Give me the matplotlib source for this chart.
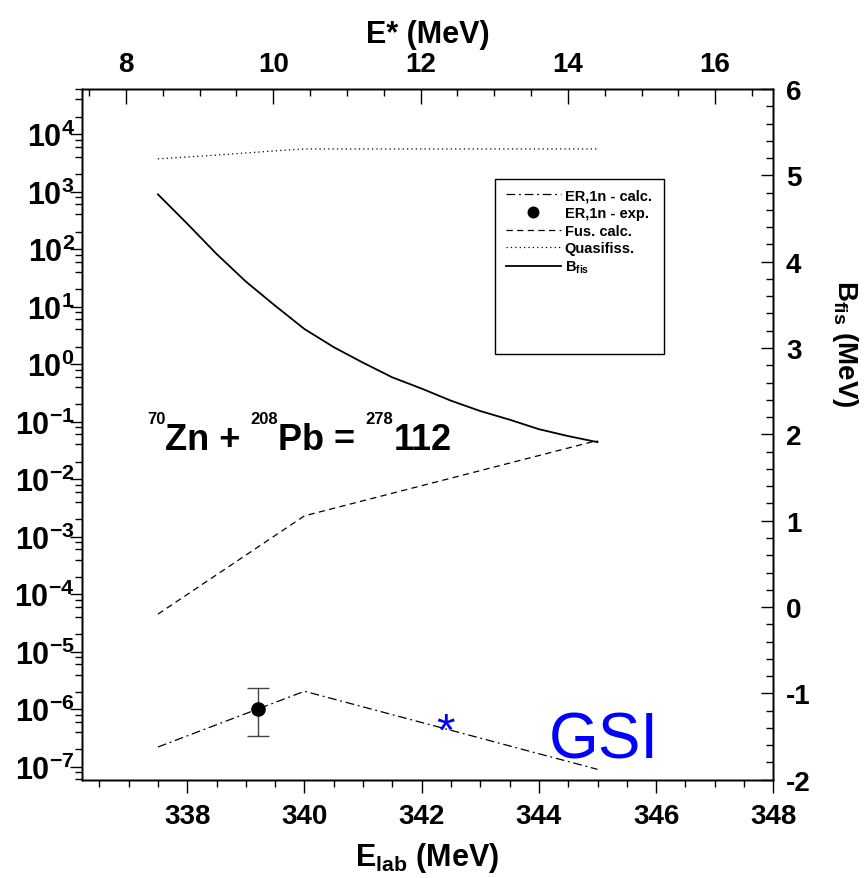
import numpy as np
import matplotlib
matplotlib.use('Agg')
import matplotlib.pyplot as plt
from matplotlib.ticker import MultipleLocator, LogLocator, FuncFormatter, NullFormatter
from matplotlib.patches import Rectangle

plt.rcParams['font.family'] = ['Liberation Sans', 'DejaVu Sans']
plt.rcParams['font.weight'] = 'bold'
plt.rcParams['axes.labelweight'] = 'bold'
plt.rcParams['axes.unicode_minus'] = False
plt.rcParams['mathtext.fontset'] = 'custom'
plt.rcParams['mathtext.rm'] = 'Liberation Sans:bold'
plt.rcParams['mathtext.it'] = 'Liberation Sans:bold'
plt.rcParams['mathtext.bf'] = 'Liberation Sans:bold'
plt.rcParams['axes.linewidth'] = 1.0

# ER,1n calculated (mb)
e_calc = [337.5, 340.0, 345.0]
er_calc = [2.2e-7, 2.05e-6, 9.0e-8]
# ER,1n experiment
e_exp = [339.2]
er_exp = [1.0e-6]
er_lo = [3.4e-7]
er_hi = [2.3e-6]
# fusion calc
e_fus = [337.5, 340.0, 345.0]
fus = [4.5e-5, 2.3e-3, 4.7e-2]
# quasifission
e_qf = [337.5, 338.5, 339.5, 340.0, 345.0]
qf = [3.7e3, 4.3e3, 5.1e3, 5.5e3, 5.5e3]
# fission barrier (MeV)
e_bf = [337.5, 338.0, 338.5, 339.0, 339.5, 340.0, 340.5, 341.0,
        341.5, 342.0, 342.5, 343.0, 343.5, 344.0, 344.5, 345.0]
bfis = [4.78, 4.44, 4.09, 3.77, 3.49, 3.22, 3.01, 2.83,
        2.66, 2.53, 2.39, 2.27, 2.17, 2.06, 1.98, 1.91]
# GSI point
e_gsi = [342.4]
s_gsi = [6.3e-7]

fig = plt.figure(figsize=(8.64, 8.79), dpi=100)
ax = fig.add_axes([0.0946, 0.1118, 0.8005, 0.7858])

h1, = ax.plot(e_calc, er_calc, color='k', lw=0.9, ls=(0, (7, 3, 1.5, 3)))
eb = ax.errorbar(e_exp, er_exp,
                 yerr=[[er_exp[0] - er_lo[0]], [er_hi[0] - er_exp[0]]],
                 fmt='o', color='k', ms=9.5, ecolor='#444444',
                 elinewidth=1, capsize=8, capthick=1)
h2 = eb[0]
h3, = ax.plot(e_fus, fus, color='k', lw=0.9, ls=(0, (5, 3.5)))
h4, = ax.plot(e_qf, qf, color='k', lw=0.9, ls=(0, (1, 2.5)))
ax.annotate('*', xy=(e_gsi[0], s_gsi[0]), xytext=(0, -5), textcoords='offset points',
            color='blue', fontsize=34, fontweight='normal',
            ha='center', va='center_baseline')

ax.set_yscale('log')
ax.set_xlim(336.2, 348)
ax.set_ylim(5.94e-8, 6.06e4)
ax.xaxis.set_major_locator(MultipleLocator(2))
ax.xaxis.set_minor_locator(MultipleLocator(0.5))
ax.yaxis.set_major_locator(LogLocator(base=10, numticks=30))
ax.yaxis.set_minor_locator(LogLocator(base=10, subs=(2, 4, 6, 8), numticks=30))
ax.yaxis.set_minor_formatter(NullFormatter())
ax.yaxis.set_major_formatter(FuncFormatter(lambda v, p: r'$\mathrm{10^{%d}}$' % round(np.log10(v))))
ax.tick_params(axis='x', which='both', direction='out', top=False, labelsize=20, pad=8)
ax.tick_params(axis='y', which='both', direction='out', right=False, labelsize=22, pad=-4)
ax.tick_params(which='major', length=9, width=1)
ax.tick_params(which='minor', length=5, width=1)
ax.set_xlabel(r'$\mathrm{E_{lab}}$ (MeV)', fontsize=22, labelpad=8)

axr = ax.twinx()
h5, = axr.plot(e_bf, bfis, color='k', lw=1.3)
axr.set_ylim(-2, 6)
axr.yaxis.set_major_locator(MultipleLocator(1))
axr.yaxis.set_minor_locator(MultipleLocator(0.2))
axr.tick_params(axis='y', which='both', direction='in', labelsize=20, pad=9)
axr.tick_params(which='major', length=9, width=1)
axr.tick_params(which='minor', length=5, width=1)
axr.set_ylabel(r'$\mathrm{B_{fis}}$ (MeV)', fontsize=20, rotation=270, va='center', ha='center')
axr.yaxis.set_label_coords(1.104, 0.632)

axt = ax.twiny()
axt.set_xlim(7.40, 16.79)
axt.xaxis.set_major_locator(MultipleLocator(2))
axt.xaxis.set_minor_locator(MultipleLocator(0.5))
axt.tick_params(axis='x', which='both', direction='in', labelsize=20, pad=9)
axt.tick_params(which='major', length=11, width=1)
axt.tick_params(which='minor', length=5, width=1)
axt.set_xlabel('E* (MeV)', fontsize=22, labelpad=6)

# legend box
axt.add_patch(Rectangle((0.5976, 0.6163), 0.2444, 0.2534, transform=ax.transAxes,
                        fill=False, lw=1, ec='k', zorder=5))
leg = axt.legend([h1, h2, h3, h4, h5],
                 ['ER,1n - calc.', 'ER,1n - exp.', 'Fus. calc.', 'Quasifiss.',
                  r'$\mathrm{B_{fis}}$'],
                 loc='upper left', bbox_to_anchor=(0.613, 0.856),
                 bbox_transform=ax.transAxes, frameon=False, fontsize=10.5,
                 handlelength=3.8, handletextpad=0.25, labelspacing=0.25,
                 borderpad=0, borderaxespad=0, markerscale=0.8)

# reaction label
big = 26
small = 12
zn = ax.text(0.121, 0.479, 'Zn + ', transform=ax.transAxes, fontsize=big,
             ha='left', va='baseline')
ax.annotate('70', xy=(0, 0.97), xycoords=zn, ha='right', va='baseline', fontsize=small)
s208 = ax.annotate('208', xy=(1, 0.97), xycoords=zn, ha='left', va='baseline', fontsize=small)
pb = ax.annotate('Pb = ', xy=(1, 0), xycoords=(s208, zn), ha='left', va='bottom', fontsize=big)
s278 = ax.annotate('278', xy=(1, 0.97), xycoords=pb, ha='left', va='baseline', fontsize=small)
ax.annotate('112', xy=(1, 0), xycoords=(s278, pb), ha='left', va='bottom', fontsize=big)

ax.text(0.675, 0.0324, 'GSI', transform=ax.transAxes, fontsize=46,
        fontweight='normal', color='blue', ha='left', va='baseline')

fig.savefig('out.png', dpi=100)
